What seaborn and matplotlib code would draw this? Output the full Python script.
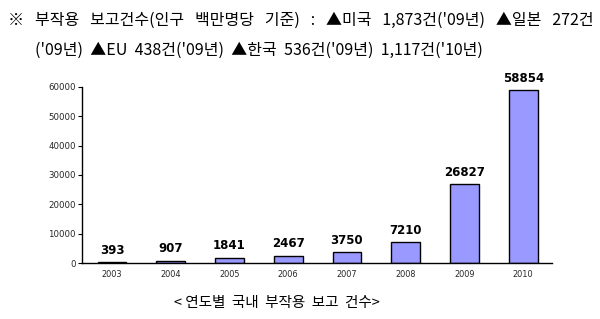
import matplotlib
matplotlib.use("Agg")
import matplotlib.pyplot as plt
import seaborn as sns
import pandas as pd

years = ["2003", "2004", "2005", "2006", "2007", "2008", "2009", "2010"]
reports = [393, 907, 1841, 2467, 3750, 7210, 26827, 58854]
yticks = [0, 10000, 20000, 30000, 40000, 50000, 60000]

header1 = "※   부작용   보고건수(인구   백만명당   기준)   :   ▲미국   1,873건('09년)   ▲일본   272건"
header2 = "('09년)  ▲EU  438건('09년)  ▲한국  536건('09년)  1,117건('10년)"
caption = "< 연도별  국내  부작용  보고  건수>"

sns.set_theme(style="white")
plt.rcParams['font.family'] = ['Noto Sans CJK KR', 'DejaVu Sans']

df = pd.DataFrame({"year": years, "count": reports})

fig = plt.figure(figsize=(6.0, 3.19), dpi=100)
ax = fig.add_axes([82/600, 1-263.3/319, (552-82)/600, (263.3-86.7)/319])

sns.barplot(data=df, x="year", y="count", ax=ax, color="#9999FF",
            saturation=1, width=0.49, edgecolor="black", linewidth=1)

ax.set_xlim(-0.51, 7.49)
ax.set_ylim(0, 60000)
ax.set_yticks(yticks)
ax.set_yticklabels([str(t) for t in yticks], fontsize=6.2, family="DejaVu Sans")
ax.set_xticks(range(len(years)))
ax.set_xticklabels(years, fontsize=5.9, family="DejaVu Sans")
ax.set_xlabel("")
ax.set_ylabel("")
ax.tick_params(axis="y", which="both", left=True, length=3, width=0.8, pad=1.5, color="black")
ax.tick_params(axis="x", bottom=False, length=0, pad=5)
for s in ["top", "right"]:
    ax.spines[s].set_visible(False)
for s in ["left", "bottom"]:
    ax.spines[s].set_color("black")
    ax.spines[s].set_linewidth(1)

for i, v in enumerate(reports):
    ax.annotate(str(v), (i, v), xytext=(0, 4), textcoords="offset points",
                ha="center", va="bottom", fontsize=8.5, fontweight="bold",
                family="DejaVu Sans", color="black")

fig.text(8/600, 1-20/319, header1, fontsize=11.5, va="center", ha="left", color="black")
fig.text(35/600, 1-50/319, header2, fontsize=11.5, va="center", ha="left", color="black")
fig.text(277/600, 1-303/319, caption, fontsize=10.5, va="center", ha="center", color="black")

fig.savefig("out.png", dpi=100)
